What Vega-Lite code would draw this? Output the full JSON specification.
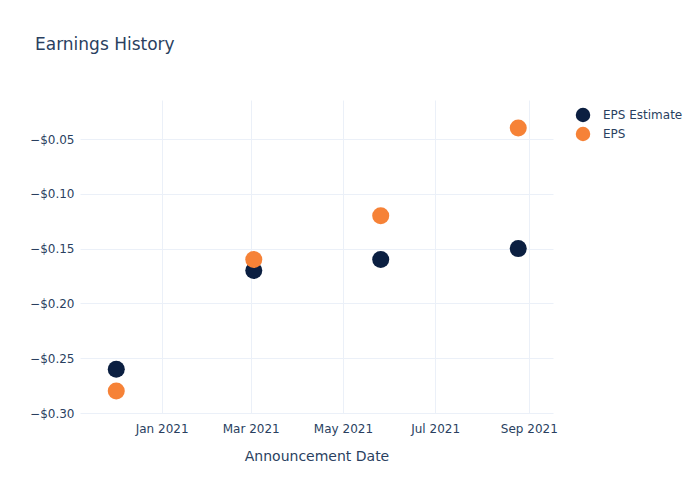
{
  "$schema": "https://vega.github.io/schema/vega-lite/v6.json",
  "width": 473,
  "height": 313,
  "autosize": {"type": "none"},
  "padding": {"left": 80, "top": 100, "right": 147, "bottom": 87},
  "background": "white",
  "config": {
    "font": "DejaVu Sans",
    "view": {"stroke": null}
  },
  "title": {
    "text": "Earnings History",
    "anchor": "start",
    "frame": "group",
    "orient": "top",
    "baseline": "alphabetic",
    "offset": 33,
    "dx": -45,
    "fontSize": 17,
    "fontWeight": "normal",
    "color": "#2a3f5f",
    "font": "DejaVu Sans"
  },
  "data": {
    "values": [
      {"date": "2020-12-02", "series": "EPS Estimate", "value": -0.26},
      {"date": "2021-03-03", "series": "EPS Estimate", "value": -0.17},
      {"date": "2021-05-26", "series": "EPS Estimate", "value": -0.16},
      {"date": "2021-08-25", "series": "EPS Estimate", "value": -0.15},
      {"date": "2020-12-02", "series": "EPS", "value": -0.28},
      {"date": "2021-03-03", "series": "EPS", "value": -0.16},
      {"date": "2021-05-26", "series": "EPS", "value": -0.12},
      {"date": "2021-08-25", "series": "EPS", "value": -0.04}
    ]
  },
  "mark": {"type": "point", "filled": true, "opacity": 1, "size": 290, "shape": "circle"},
  "encoding": {
    "x": {
      "field": "date",
      "type": "temporal",
      "scale": {"domain": ["2020-11-08", "2021-09-17"]},
      "axis": {
        "title": "Announcement Date",
        "titleFontSize": 14,
        "titleFontWeight": "normal",
        "titleColor": "#2a3f5f",
        "titlePadding": 15,
        "format": "%b %Y",
        "tickCount": {"interval": "month", "step": 2},
        "labelFontSize": 12,
        "labelColor": "#2a3f5f",
        "labelPadding": 10,
        "domain": false,
        "ticks": false,
        "grid": true,
        "gridColor": "#ebf0f8",
        "gridWidth": 1,
        "labelFlush": false
      }
    },
    "y": {
      "field": "value",
      "type": "quantitative",
      "scale": {"domain": [-0.3, -0.0144], "nice": false, "zero": false},
      "axis": {
        "title": null,
        "format": "$.2f",
        "values": [-0.3, -0.25, -0.2, -0.15, -0.1, -0.05],
        "labelFontSize": 12,
        "labelColor": "#2a3f5f",
        "labelPadding": 6,
        "domain": false,
        "ticks": false,
        "grid": true,
        "gridColor": "#ebf0f8",
        "gridWidth": 1
      }
    },
    "color": {
      "field": "series",
      "type": "nominal",
      "scale": {"domain": ["EPS Estimate", "EPS"], "range": ["#0b1f41", "#f68237"]},
      "legend": {
        "title": null,
        "orient": "none",
        "legendX": 495,
        "legendY": 7,
        "padding": 0,
        "symbolType": "circle",
        "symbolSize": 210,
        "symbolOpacity": 1,
        "labelFontSize": 12,
        "labelColor": "#2a3f5f",
        "labelOffset": 12,
        "rowPadding": 3
      }
    },
    "order": {"field": "series", "sort": "descending"}
  }
}
